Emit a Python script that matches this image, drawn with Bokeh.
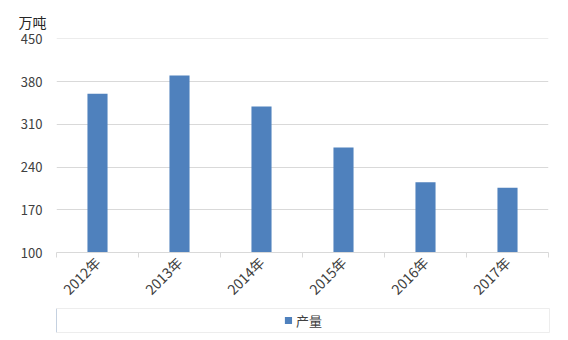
import math
from bokeh.plotting import figure
from bokeh.layouts import column
from bokeh.models import (FixedTicker, Legend, LegendItem, Range1d, ColumnDataSource)
from bokeh.embed import file_html
from bokeh.resources import INLINE

# Annual output, 10k tonnes
years = ["2012年", "2013年", "2014年", "2015年", "2016年", "2017年"]
output = [360, 390, 339, 272, 215, 206]
y_ticks = [100, 170, 240, 310, 380, 450]
series_name = "产量"

FONT = "Noto Sans CJK SC"
BAR = "#4F81BD"
GRID = "#D9D9D9"

xs = [i + 0.5 for i in range(len(years))]
src = ColumnDataSource(dict(x=xs, top=output))

p = figure(frame_width=492, frame_height=214, output_backend="svg", toolbar_location=None,
           x_range=Range1d(0, len(years)), y_range=Range1d(100, 450.6),
           min_border_left=56, min_border_right=20, min_border_top=38,
           min_border_bottom=40)
p.outline_line_color = None
p.background_fill_color = "white"
p.border_fill_color = "white"

r = p.vbar(x="x", top="top", bottom=100, width=0.245, source=src,
           fill_color=BAR, line_color=None)

# x axis: labels at category centres, ticks on category boundaries
xa = p.xaxis[0]
xa.ticker = FixedTicker(ticks=xs, minor_ticks=list(range(len(years) + 1)))
xa.major_label_overrides = {x: y for x, y in zip(xs, years)}
xa.major_label_orientation = math.pi / 4
xa.major_tick_line_color = None
xa.minor_tick_line_color = GRID
xa.minor_tick_in = 0
xa.minor_tick_out = 5
xa.axis_line_color = GRID
xa.major_label_text_font = FONT
xa.major_label_text_font_size = "14px"
xa.major_label_text_color = "#404040"
xa.major_label_standoff = 1

ya = p.yaxis[0]
ya.ticker = FixedTicker(ticks=y_ticks)
ya.axis_line_color = None
ya.major_tick_line_color = None
ya.minor_tick_line_color = None
ya.major_label_text_font = FONT
ya.major_label_text_font_size = "13px"
ya.major_label_text_color = "#404040"
ya.major_label_standoff = 8

p.xgrid.grid_line_color = None
p.ygrid.grid_line_color = GRID
p.ygrid.ticker = FixedTicker(ticks=y_ticks)

p.title.text = "万吨"
p.title.text_font = FONT
p.title.text_font_size = "14px"
p.title.text_font_style = "normal"
p.title.text_color = "#262626"
p.title.align = "left"
p.title.offset = -38
p.title.standoff = 14

# legend strip under the chart, framed across the plot width
leg = figure(frame_width=493, frame_height=24, output_backend="svg", toolbar_location=None,
             x_range=Range1d(0, 1), y_range=Range1d(0, 1),
             min_border_left=55, min_border_right=20, min_border_top=0,
             min_border_bottom=6)
leg.axis.visible = False
leg.grid.visible = False
leg.outline_line_color = "#EDEDED"
leg.border_fill_color = "white"
# swatch renderer sits outside the visible range; only its legend glyph shows
swatch = leg.vbar(x=[-10], top=[1], width=0.1, fill_color=BAR, line_color=None)

legend = Legend(items=[LegendItem(label=series_name, renderers=[swatch])],
                location="center", orientation="horizontal",
                label_text_font=FONT, label_text_font_size="13px",
                label_text_color="#404040",
                glyph_width=9, glyph_height=9,
                label_height=14, label_standoff=4,
                border_line_color=None, background_fill_alpha=0,
                padding=2, margin=0)
leg.add_layout(legend)

layout = column(p, leg, spacing=0)
open("out.html", "w").write(file_html(layout, INLINE))
